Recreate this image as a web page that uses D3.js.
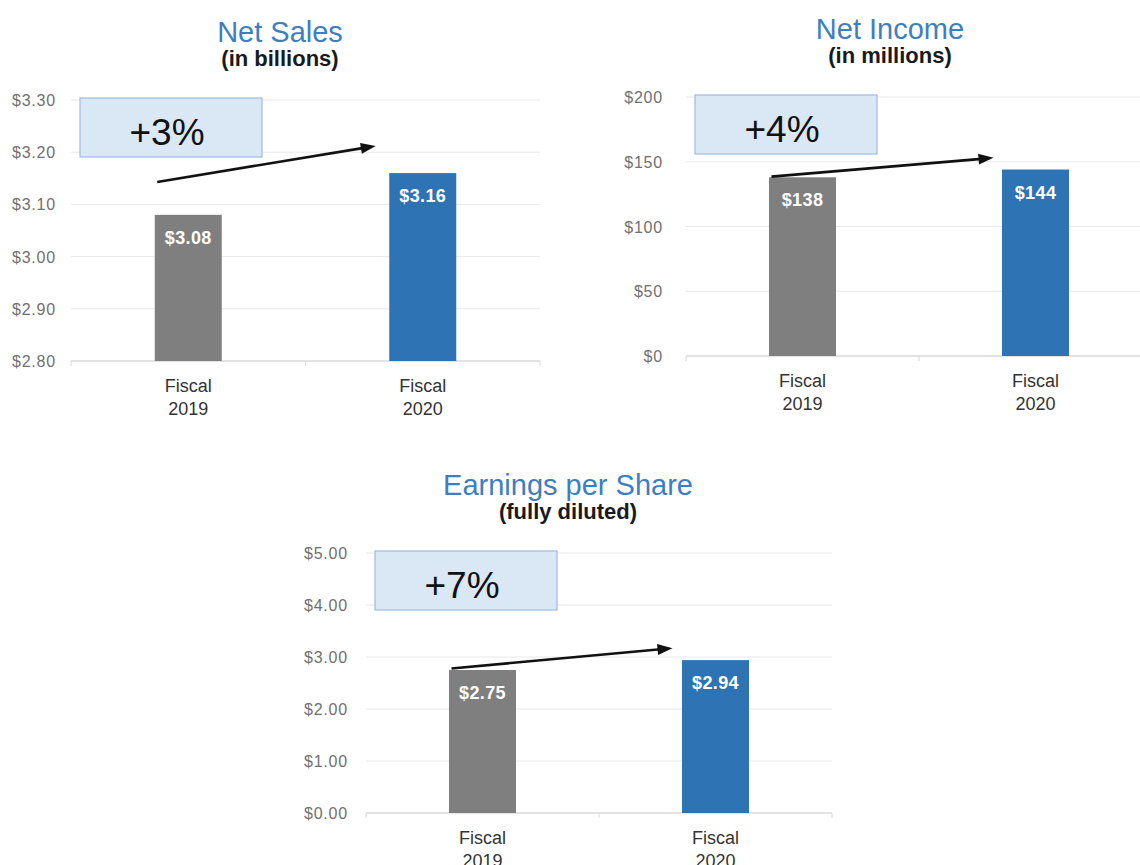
<!doctype html>
<html>
<head>
<style>
  body { margin: 0; background: #fff; }
  svg { font-family: "Liberation Sans", Arial, sans-serif; }
  .tick-label { fill: #707070; font-size: 16px; letter-spacing: 0.8px; text-anchor: end; }
  .cat-label { fill: #333; font-size: 18px; text-anchor: middle; }
  .bar-label { fill: #fff; font-size: 18px; font-weight: bold; letter-spacing: 0.4px; text-anchor: middle; }
  .title { fill: #3e7ec0; font-size: 29px; text-anchor: middle; }
  .subtitle { fill: #1a1a1a; font-size: 22px; font-weight: bold; text-anchor: middle; }
  .growth { fill: #111; font-size: 37px; text-anchor: middle; }
</style>
<script src="https://cdn.jsdelivr.net/npm/d3@7"></script>
</head>
<body>
<svg width="1140" height="865"></svg>
<script>
// data
var categories = ["Fiscal 2019", "Fiscal 2020"];

var salesValues = [3.08, 3.16];
var salesTicks = [2.80, 2.90, 3.00, 3.10, 3.20, 3.30];

var incomeValues = [138, 144];
var incomeTicks = [0, 50, 100, 150, 200];

var epsValues = [2.75, 2.94];
var epsTicks = [0, 1, 2, 3, 4, 5];

var growthLabels = ["+3%", "+4%", "+7%"];
var barColors = ["#7f7f7f", "#2e74b5"];

var svg = d3.select("svg");

// one panel
function drawPanel(cfg) {
  var g = svg.append("g");
  var y = d3.scaleLinear().domain([cfg.ticks[0], cfg.ticks[cfg.ticks.length - 1]]).range([cfg.bottom, cfg.top]);
  var x = d3.scalePoint().domain(categories).range([cfg.left, cfg.right]).padding(0.5);
  var barW = 67;

  g.append("text").attr("class", "title").attr("x", cfg.cx).attr("y", cfg.top - 58).text(cfg.title);
  g.append("text").attr("class", "subtitle").attr("x", cfg.cx).attr("y", cfg.top - 34).text(cfg.subtitle);

  // gridlines
  g.append("g")
    .selectAll("line").data(cfg.ticks).enter().append("line")
    .attr("x1", cfg.left).attr("x2", Math.min(cfg.right, 1140))
    .attr("y1", function(d) { return y(d); }).attr("y2", function(d) { return y(d); })
    .attr("stroke-width", function(d, i) { return i == 0 ? 1.5 : 1; })
    .style("stroke", function(d, i) { return i == 0 ? "#d9d9d9" : "#e8e8e8"; });

  // small ticks on baseline
  g.selectAll(".xtick").data([cfg.left, (cfg.left + cfg.right) / 2, cfg.right]).enter().append("line")
    .attr("x1", function(d) { return d; }).attr("x2", function(d) { return d; })
    .attr("y1", cfg.bottom).attr("y2", cfg.bottom + 5)
    .attr("stroke", "#d9d9d9");

  g.selectAll(".tick-label").data(cfg.ticks).enter().append("text")
    .attr("class", "tick-label")
    .attr("x", cfg.left - cfg.gap)
    .attr("y", function(d) { return y(d) + 6; })
    .text(cfg.tickFmt);

  g.selectAll(".bar").data(cfg.values).enter().append("rect")
    .attr("x", function(d, i) { return x(categories[i]) - barW / 2; })
    .attr("y", function(d) { return y(d); })
    .attr("width", barW)
    .attr("height", function(d) { return cfg.bottom - y(d); })
    .attr("fill", function(d, i) { return barColors[i]; });

  g.selectAll(".bar-label").data(cfg.values).enter().append("text")
    .attr("class", "bar-label")
    .attr("x", function(d, i) { return x(categories[i]); })
    .attr("y", function(d) { return y(d) + 29; })
    .text(cfg.barFmt);

  categories.forEach(function(c) {
    var parts = c.split(" ");
    var t = g.append("text").attr("class", "cat-label").attr("x", x(c)).attr("y", cfg.bottom + 31);
    t.append("tspan").attr("x", x(c)).text(parts[0]);
    t.append("tspan").attr("x", x(c)).attr("dy", 23).text(parts[1]);
  });

  // growth box
  var bx = cfg.left + 9, bw = 182;
  g.append("rect").attr("x", bx).attr("y", cfg.top - 2).attr("width", bw).attr("height", 59)
    .attr("fill", "#dae7f5").attr("stroke", "#9dbcdf").attr("stroke-width", 1.2);
  g.append("text").attr("class", "growth").attr("x", bx + bw / 2 - 4).attr("y", cfg.top + 45).text(cfg.growth);

  // arrow from 2019 bar toward 2020 bar
  var x0 = x(categories[0]) - 31, x1 = x(categories[1]) - cfg.arrowEnd;
  var y0 = y(cfg.arrow[0]), y1 = y(cfg.arrow[1]);
  var ang = Math.atan2(y1 - y0, x1 - x0);
  var hl = 15, hw = 5.5;
  g.append("line").attr("x1", x0).attr("y1", y0)
    .attr("x2", x1 - Math.cos(ang) * hl * 0.8).attr("y2", y1 - Math.sin(ang) * hl * 0.8)
    .attr("stroke", "#111").attr("stroke-width", 2.6);
  var bxp = x1 - Math.cos(ang) * hl, byp = y1 - Math.sin(ang) * hl;
  g.append("path")
    .attr("d", "M" + x1 + "," + y1 +
      "L" + (bxp - Math.sin(ang) * hw) + "," + (byp + Math.cos(ang) * hw) +
      "L" + (bxp + Math.sin(ang) * hw) + "," + (byp - Math.cos(ang) * hw) + "Z")
    .attr("fill", "#111");
}

drawPanel({
  title: "Net Sales", subtitle: "(in billions)", cx: 280,
  values: salesValues, ticks: salesTicks,
  left: 71, right: 540, top: 100, bottom: 361, gap: 15,
  tickFmt: function(d) { return "$" + d.toFixed(2); },
  barFmt: function(d) { return "$" + d.toFixed(2); },
  growth: growthLabels[0], arrow: [3.143, 3.212], arrowEnd: 47
});

drawPanel({
  title: "Net Income", subtitle: "(in millions)", cx: 890,
  values: incomeValues, ticks: incomeTicks,
  left: 686, right: 1152, top: 97, bottom: 356, gap: 23,
  tickFmt: function(d) { return "$" + d; },
  barFmt: function(d) { return "$" + d; },
  growth: growthLabels[1], arrow: [138.5, 153], arrowEnd: 42
});

drawPanel({
  title: "Earnings per Share", subtitle: "(fully diluted)", cx: 568,
  values: epsValues, ticks: epsTicks,
  left: 366, right: 832, top: 553, bottom: 813, gap: 18,
  tickFmt: function(d) { return "$" + d.toFixed(2); },
  barFmt: function(d) { return "$" + d.toFixed(2); },
  growth: growthLabels[2], arrow: [2.78, 3.17], arrowEnd: 43
});
</script>
</body>
</html>
